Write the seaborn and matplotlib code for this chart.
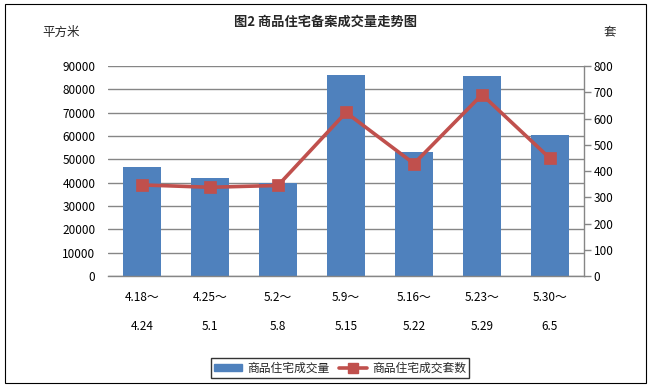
import matplotlib
matplotlib.use("Agg")
import matplotlib.pyplot as plt
import seaborn as sns
import pandas as pd
from matplotlib.patches import Patch, Rectangle
from matplotlib.lines import Line2D

# ---- data ----
categories = ["4.18～\n4.24", "4.25～\n5.1", "5.2～\n5.8", "5.9～\n5.15",
              "5.16～\n5.22", "5.23～\n5.29", "5.30～\n6.5"]
area = [46800, 42000, 39900, 86100, 53100, 85700, 60400]
units = [347, 338, 345, 623, 428, 691, 448]
left_ticks = [0, 10000, 20000, 30000, 40000, 50000, 60000, 70000, 80000, 90000]
right_ticks = [0, 100, 200, 300, 400, 500, 600, 700, 800]
title = "图2 商品住宅备案成交量走势图"
left_unit = "平方米"
right_unit = "套"
bar_label = "商品住宅成交量"
line_label = "商品住宅成交套数"

df = pd.DataFrame({"period": categories, "area": area, "units": units})

sns.set_theme(style="white")
plt.rcParams["font.family"] = ["Noto Sans CJK SC", "DejaVu Sans"]

BLUE = "#4F81BD"
RED = "#C0504D"
GRID = "#868686"

fig = plt.figure(figsize=(6.52, 3.87), dpi=100)
fig.patch.set_facecolor("white")
ax = fig.add_axes([108 / 652, 1 - 276 / 387, (584 - 108) / 652, (276 - 66) / 387])

sns.barplot(data=df, x="period", y="area", color=BLUE, saturation=1,
            width=0.56, linewidth=0, ax=ax, zorder=2)
ax.set_ylim(0, 90000)
ax.set_yticks(left_ticks)
ax.yaxis.grid(True, color=GRID, linewidth=1, zorder=0)
ax.set_axisbelow(True)
ax.set_xlabel("")
ax.set_ylabel("")
for s in ["top", "left", "right"]:
    ax.spines[s].set_visible(False)
ax.spines["bottom"].set_color(GRID)
ax.spines["bottom"].set_linewidth(1)
ax.tick_params(axis="y", length=0, pad=9, labelsize=8.5, labelcolor="black")
ax.tick_params(axis="x", length=0, pad=11, labelsize=8.5, labelcolor="black")
for lab in ax.get_xticklabels():
    lab.set_linespacing(2.6)
    lab.set_verticalalignment("top")

ax2 = ax.twinx()
sns.pointplot(data=df, x="period", y="units", color=RED, markers="s",
              markersize=7, linewidth=2.6, ax=ax2)
ax2.set_ylim(0, 800)
ax2.set_yticks(right_ticks)
ax2.set_xlim(-0.5, len(categories) - 0.5)
ax2.set_ylabel("")
ax2.set_xlabel("")
for s in ["top", "left", "bottom"]:
    ax2.spines[s].set_visible(False)
ax2.spines["right"].set_color(GRID)
ax2.spines["right"].set_linewidth(1)
ax2.tick_params(axis="y", right=True, direction="out", length=5, width=1,
                color=GRID, pad=2, labelsize=8.5, labelcolor="black")

fig.text(0.5, 1 - 22 / 387, title, ha="center", va="center",
         fontsize=9.5, fontweight="bold")
fig.text(42 / 652, 1 - 32 / 387, left_unit, ha="left", va="center", fontsize=9)
fig.text(604 / 652, 1 - 32 / 387, right_unit, ha="left", va="center", fontsize=9)

handles = [Patch(facecolor=BLUE, edgecolor=BLUE),
           Line2D([], [], color=RED, linewidth=2.6, marker="s", markersize=7)]
leg = fig.legend(handles, [bar_label, line_label], loc="center",
                 bbox_to_anchor=(340 / 652, 1 - 368 / 387), ncol=2,
                 fontsize=8.5, frameon=True, fancybox=False,
                 handlelength=2.4, handleheight=0.5, columnspacing=0.8,
                 handletextpad=0.4, borderpad=0.3, borderaxespad=0)
leg.get_frame().set_edgecolor("black")
leg.get_frame().set_linewidth(1)

fig.patches.append(Rectangle((4.5 / 652, 4.5 / 387), (646 - 4.5) / 652,
                             (383.5 - 4.5) / 387, transform=fig.transFigure,
                             fill=False, edgecolor="black", linewidth=0.8))

fig.savefig("out.png", dpi=100)
